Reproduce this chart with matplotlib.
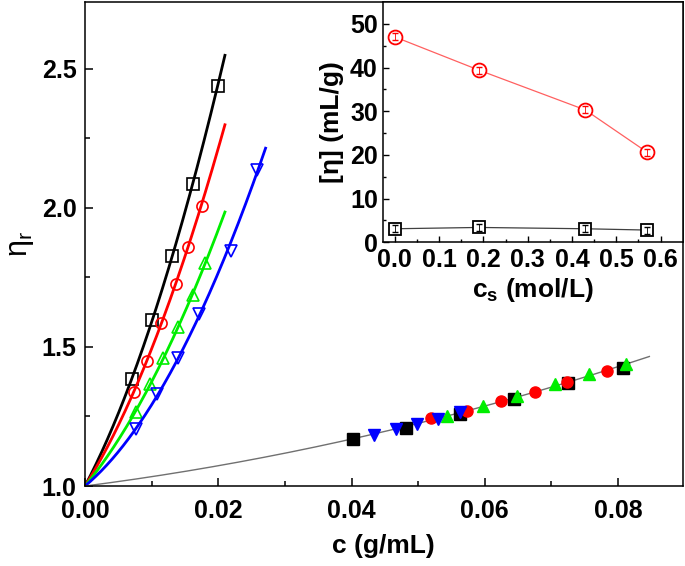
import numpy as np
import matplotlib
matplotlib.use("Agg")
import matplotlib.pyplot as plt

plt.rcParams["font.family"] = ["Liberation Sans", "DejaVu Sans"]
plt.rcParams["font.weight"] = "bold"
plt.rcParams["mathtext.fontset"] = "custom"
plt.rcParams["mathtext.rm"] = "Liberation Sans:weight=normal"
plt.rcParams["mathtext.it"] = "Liberation Sans:italic"
plt.rcParams["mathtext.bf"] = "Liberation Sans:bold"

# open symbols: eta_r vs c for four salt concentrations
c_black = [0.0071, 0.0100, 0.0131, 0.0162, 0.0199]
eta_black = [1.385, 1.597, 1.827, 2.086, 2.439]
c_red = [0.0074, 0.0093, 0.0114, 0.0136, 0.0154, 0.0175]
eta_red = [1.337, 1.451, 1.585, 1.726, 1.861, 2.007]
c_green = [0.00765, 0.00975, 0.01175, 0.0139, 0.0162, 0.0180]
eta_green = [1.267, 1.366, 1.459, 1.573, 1.685, 1.801]
c_blue = [0.00765, 0.01085, 0.0139, 0.0171, 0.02185, 0.02575]
eta_blue = [1.204, 1.330, 1.461, 1.618, 1.846, 2.137]
c_end = [0.021, 0.021, 0.021, 0.0271]   # where each fitted curve stops

# filled symbols: shifted data on the master curve
cs_black = [0.04015, 0.04815, 0.05635, 0.0644, 0.0725, 0.0807]
es_black = [1.169, 1.210, 1.259, 1.312, 1.369, 1.426]
cs_red = [0.0519, 0.0573, 0.0625, 0.0675, 0.0724, 0.0783]
es_red = [1.246, 1.270, 1.306, 1.339, 1.375, 1.414]
cs_green = [0.05435, 0.05975, 0.0649, 0.0705, 0.07565, 0.08125]
es_green = [1.252, 1.288, 1.325, 1.366, 1.402, 1.439]
cs_blue = [0.0434, 0.04675, 0.04985, 0.0530, 0.05625]
es_blue = [1.183, 1.204, 1.223, 1.241, 1.267]
master_end = 0.0847

# inset: intrinsic viscosity vs salt concentration
salt = [0.0, 0.19, 0.43, 0.57]
ieta_red = [47.0, 39.4, 30.3, 20.6]
ieta_black = [3.1, 3.4, 3.1, 2.8]
ieta_err = [0.8, 0.8, 0.8, 0.8]

cols = ["black", "red", "#00ee00", "blue"]


def fit_curve(c, e, cmax):
    # eta_r = 1 + a c + b c^2, forced through (0, 1)
    c = np.asarray(c)
    A = np.column_stack([c, c ** 2])
    coef = np.linalg.lstsq(A, np.asarray(e) - 1, rcond=None)[0]
    xx = np.linspace(0, cmax, 200)
    return xx, 1 + coef[0] * xx + coef[1] * xx ** 2


fig = plt.figure(figsize=(6.85, 5.66), dpi=100)
ax = fig.add_axes([0.1241, 0.1413, 0.8725, 0.8552])

open_sets = [(c_black, eta_black, "s"), (c_red, eta_red, "o"),
             (c_green, eta_green, "^"), (c_blue, eta_blue, "v")]
for (c, e, m), col, ce in zip(open_sets, cols, c_end):
    xx, yy = fit_curve(c, e, ce)
    ax.plot(xx, yy, color=col, lw=2)
    ax.plot(c, e, m, mfc="none", mec=col, ms=8, mew=1.2)

all_c = cs_black + cs_red + cs_green + cs_blue
all_e = es_black + es_red + es_green + es_blue
xx, yy = fit_curve(all_c, all_e, master_end)
ax.plot(xx, yy, color="#707070", lw=1)

filled_sets = [(cs_black, es_black, "s"), (cs_red, es_red, "o"),
               (cs_green, es_green, "^"), (cs_blue, es_blue, "v")]
for (c, e, m), col in zip(filled_sets, cols):
    ax.plot(c, e, m, color=col, ms=8, zorder=3)

ax.set_xlim(0, 0.0897)
ax.set_ylim(1.0, 2.74)
ax.set_xticks([0, 0.02, 0.04, 0.06, 0.08])
ax.set_xticks(np.arange(0.01, 0.09, 0.02), minor=True)
ax.set_yticks([1.0, 1.5, 2.0, 2.5])
ax.set_yticks([1.25, 1.75, 2.25], minor=True)
ax.xaxis.set_major_formatter(matplotlib.ticker.FormatStrFormatter("%.2f"))
ax.yaxis.set_major_formatter(matplotlib.ticker.FormatStrFormatter("%.1f"))
ax.tick_params(which="both", direction="in", top=False, right=False,
               labelsize=18, width=1.1)
ax.tick_params(axis="x", which="major", length=6, pad=9)
ax.tick_params(axis="y", which="major", length=6, pad=6)
ax.tick_params(which="minor", length=3.5)
for s in ax.spines.values():
    s.set_linewidth(1.1)
ax.set_xlabel("c (g/mL)", fontsize=19, fontweight="bold", labelpad=8)
ax.set_ylabel(r"$\mathrm{\eta_r}$", fontsize=22, fontweight="normal", labelpad=4)

# inset
ins = fig.add_axes([0.5596, 0.5719, 0.4370, 0.4246])
ins.plot(salt, ieta_red, color="#ff6060", lw=0.9, zorder=1)
ins.plot(salt, ieta_red, "o", mfc="white", mec="red", ms=10, mew=1.3, zorder=2)
ins.errorbar(salt, ieta_red, yerr=ieta_err, fmt="none", ecolor="red",
             elinewidth=0.6, capsize=2, zorder=3)
ins.plot(salt, ieta_black, color="#404040", lw=0.9, zorder=1)
ins.plot(salt, ieta_black, "s", mfc="white", mec="black", ms=8, mew=1.3, zorder=2)
ins.errorbar(salt, ieta_black, yerr=ieta_err, fmt="none", ecolor="black",
             elinewidth=0.6, capsize=2, zorder=3)
ins.set_xlim(-0.026, 0.65)
ins.set_ylim(0, 55)
ins.set_xticks(np.arange(0, 0.61, 0.1))
ins.set_xticks(np.arange(0.05, 0.65, 0.1), minor=True)
ins.set_yticks(np.arange(0, 51, 10))
ins.set_yticks(np.arange(5, 55, 10), minor=True)
ins.xaxis.set_major_formatter(matplotlib.ticker.FormatStrFormatter("%.1f"))
ins.tick_params(which="both", direction="in", top=False, right=False,
                labelsize=18, width=1.0)
ins.tick_params(which="major", length=4.5, pad=4)
ins.tick_params(which="minor", length=2.5)
for s in ins.spines.values():
    s.set_linewidth(1.1)
ins.set_xlabel(r"c$_\mathbf{s}$ (mol/L)", fontsize=19, fontweight="bold", labelpad=3)
ins.set_ylabel("[η] (mL/g)", fontsize=19, fontweight="bold", labelpad=4)

fig.savefig("out.png", dpi=100)
